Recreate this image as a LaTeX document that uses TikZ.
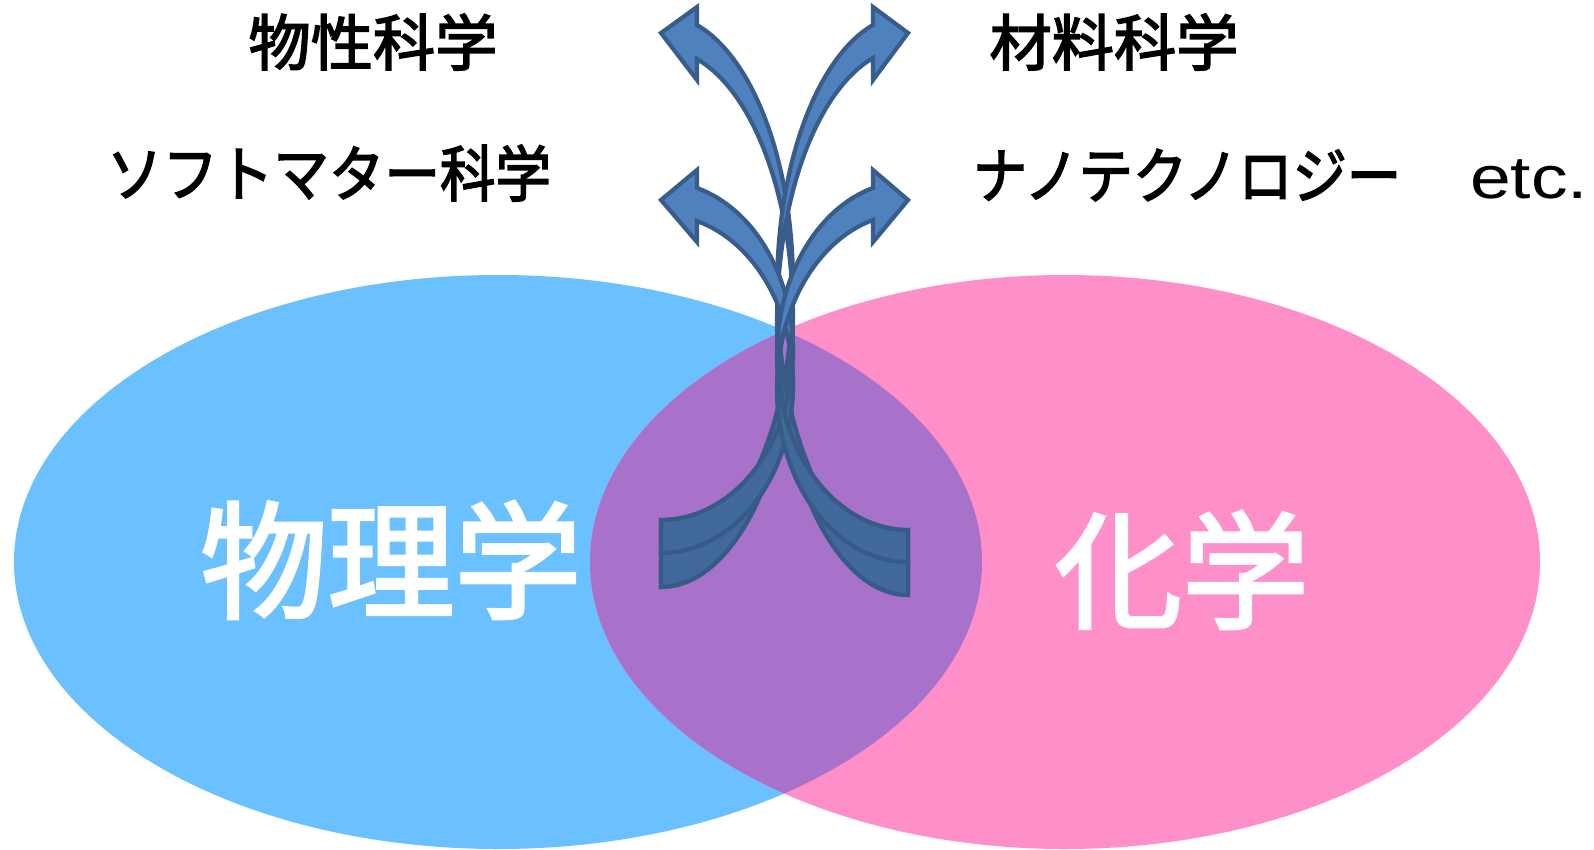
\documentclass[tikz,border=0pt]{standalone}
\usepackage{fontspec}
\usepackage{graphicx}
\setmainfont{Noto Sans CJK JP}[FakeBold=2.6]
\newfontfamily\latinfont{Liberation Sans}
\definecolor{phys}{HTML}{6BC0FF}
\definecolor{chem}{HTML}{FF8FC8}
\definecolor{mix}{HTML}{A872CA}
\definecolor{arrfill}{HTML}{4F81BD}
\definecolor{arrline}{HTML}{385D8A}
\definecolor{arrfilldk}{HTML}{41699B}
\definecolor{arrlinedk}{HTML}{375A86}
\newcommand\drawribbons[2]{%
  \tikzset{ribbon/.style={fill=#1, draw=#2, line width=4.2pt, line join=miter}}
  % left outer
  \filldraw[ribbon] plot[domain=90:-74.17, samples=70, variable=\q] ({661+132*cos(\q)}, {283.9+269.1*sin(\q)})
    -- (697,7) -- (661,33) -- (697,80)
    -- plot[domain=-74.17:90, samples=70, variable=\q] ({661+132*cos(\q)}, {317.9+269.1*sin(\q)}) -- cycle;
  % right outer
  \filldraw[ribbon] plot[domain=90:-74.5, samples=70, variable=\q] ({908-131*cos(\q)}, {288.5+273.5*sin(\q)})
    -- (873,7) -- (908,33) -- (873,80)
    -- plot[domain=-74.5:90, samples=70, variable=\q] ({908-131*cos(\q)}, {321.5+273.5*sin(\q)}) -- cycle;
  % left inner
  \filldraw[ribbon] plot[domain=90:-74.17, samples=70, variable=\q] ({661+132*cos(\q)}, {350.8+169.2*sin(\q)})
    -- (697,170) -- (661,200) -- (697,242)
    -- plot[domain=-74.17:90, samples=70, variable=\q] ({661+132*cos(\q)}, {383.8+169.2*sin(\q)}) -- cycle;
  % right inner
  \filldraw[ribbon] plot[domain=90:-74.5, samples=70, variable=\q] ({908-131*cos(\q)}, {355.8+174.2*sin(\q)})
    -- (873,170) -- (908,200) -- (873,242)
    -- plot[domain=-74.5:90, samples=70, variable=\q] ({908-131*cos(\q)}, {387.8+174.2*sin(\q)}) -- cycle;
}
\begin{document}
\begin{tikzpicture}[x=1pt, y=-1pt,
  toptext/.style={font=\fontsize{61}{70}\selectfont, text=black, inner sep=0pt},
  bigtext/.style={font=\fontsize{127}{140}\selectfont, text=white, inner sep=0pt}]
\useasboundingbox (0,0) rectangle (1594,849);
% ellipses
\fill[phys] (498,562) ellipse [x radius=484, y radius=287];
\fill[chem] (1065,562) ellipse [x radius=475, y radius=287];
\begin{scope}
  \clip (498,562) ellipse [x radius=484, y radius=287];
  \fill[mix] (1065,562) ellipse [x radius=475, y radius=287];
\end{scope}
% arrows
\drawribbons{arrfill}{arrline}
\begin{scope}
  \clip (498,562) ellipse [x radius=484, y radius=287];
  \clip (1065,562) ellipse [x radius=475, y radius=287];
  \drawribbons{arrfilldk}{arrlinedk}
\end{scope}
% labels
\node[bigtext] (phy) at (391,560) {物理学};
\node[bigtext] (chm) at (1182,570) {化学};
\node[toptext] (bussei) at (373,42) {\scalebox{1.02}[1]{物性科学}};
\node[toptext] (soft) at (329,173) {\scalebox{0.91}[1]{ソフトマター科学}};
\node[toptext] (zairyo) at (1114,42) {\scalebox{1.02}[1]{材料科学}};
\node[toptext] (nano) at (1187,175) {\scalebox{0.89}[1]{ナノテクノロジー}};
\node[toptext, anchor=base west, font=\latinfont\fontsize{60}{70}\selectfont] (etc) at (1470,198) {\scalebox{1.22}[1]{etc.}};
\end{tikzpicture}
\end{document}
